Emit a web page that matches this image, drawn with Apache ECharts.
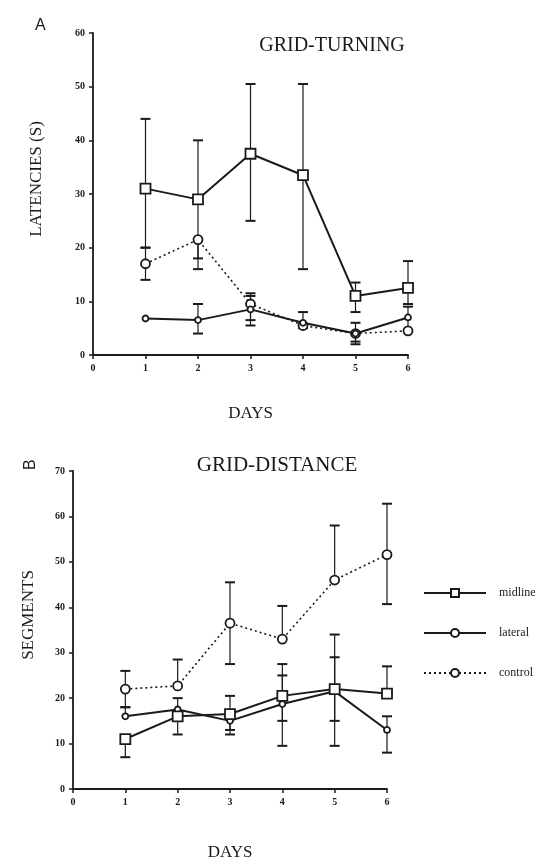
<!DOCTYPE html>
<html><head><meta charset="utf-8">
<script src="https://cdn.jsdelivr.net/npm/echarts@6/dist/echarts.min.js"></script>
<style>html,body{margin:0;padding:0;background:#fff}#c{width:555px;height:862px}</style>
</head><body><div id="c"></div>
<script>
const days = [1,2,3,4,5,6];
const xTicks = [0,1,2,3,4,5,6];
// Panel A: GRID-TURNING latencies (s)
const aMidline   = [31, 29, 37.5, 33.5, 11, 12.5];
const aMidlineHi = [44, 40, 50.5, 50.5, 13.5, 17.5];
const aMidlineLo = [20, 16, 25, 16, 8, 9.5];
const aLateral   = [6.8, 6.5, 8.5, 6, 4, 7];
const aLateralHi = [null, 9.5, 11, null, null, null];
const aLateralLo = [null, 4, 5.5, null, 2.5, null];
const aControl   = [17, 21.5, 9.5, 5.5, 4, 4.5];
const aControlHi = [20, null, 11.5, 8, 6, 9];
const aControlLo = [14, 18, 6.5, 5, 2, null];
// Panel B: GRID-DISTANCE segments
const bMidline   = [11, 16, 16.5, 20.5, 22, 21];
const bMidlineHi = [null, null, 20.5, 27.5, 34, 27];
const bMidlineLo = [7, 12, 12, 9.5, 9.5, null];
const bLateral   = [16, 17.5, 15, 18.7, 21.5, 13];
const bLateralHi = [18, 20, null, 25, 29, 16];
const bLateralLo = [null, null, 13, 15, 15, 8];
const bControl   = [22, 22.7, 36.5, 33, 46, 51.6];
const bControlHi = [26, 28.5, 45.5, 40.3, 58, 62.8];
const bControlLo = [18, null, 27.5, null, null, 40.7];

const ink = '#1a1a1a';
const serif2 = '"Liberation Serif","DejaVu Serif",serif';

function pts(v){ return days.map((d,i)=>[d, v[i]]); }
function errData(v, hi, lo){
  return days.map((d,i)=>[d, v[i], hi[i], lo[i]]);
}
function errSeries(name, xi, v, hi, lo){
  return {
    type:'custom', name: name, xAxisIndex: xi, yAxisIndex: xi, silent:true, z:1,
    data: errData(v, hi, lo),
    renderItem: function(params, api){
      const x = api.value(0), y = api.value(1), h = api.value(2), l = api.value(3);
      const children = [];
      const c = api.coord([x, y]);
      const cw = 5;
      [h, l].forEach(function(e){
        if (e === null || e === undefined || isNaN(e) || e === '-') return;
        const p = api.coord([x, e]);
        children.push({type:'line', shape:{x1:c[0], y1:c[1], x2:p[0], y2:p[1]}, style:{stroke:ink, lineWidth:1.2}});
        children.push({type:'line', shape:{x1:p[0]-cw, y1:p[1], x2:p[0]+cw, y2:p[1]}, style:{stroke:ink, lineWidth:2}});
      });
      return {type:'group', children: children};
    },
    encode:{x:0, y:1}
  };
}
function lineSeries(name, xi, v, symbol, size, dashed){
  return {
    type:'line', name:name, xAxisIndex:xi, yAxisIndex:xi, data: pts(v), z:3,
    symbol: symbol, symbolSize: size,
    itemStyle:{color:'#fff', borderColor:ink, borderWidth:1.8},
    lineStyle:{color:ink, width: dashed?1.6:2, type: dashed?[2,3]:'solid'},
    emphasis:{disabled:true}
  };
}
const axisCommon = {
  axisLine:{show:true, lineStyle:{color:ink, width:1.8}},
  axisTick:{show:true, inside:false, length:4, lineStyle:{color:ink, width:1.5}},
  axisLabel:{color:ink, fontFamily:serif2, fontSize:10, fontWeight:'bold'},
  splitLine:{show:false}
};
const chart = echarts.init(document.getElementById('c'), null, {renderer:'canvas'});
chart.setOption({
  backgroundColor:'#fff',
  animation:false,
  title:[
    {text:'GRID-TURNING', left:327, top:31, textAlign:'center', textStyle:{fontFamily:serif2, fontSize:20, fontWeight:'normal', color:ink}},
    {text:'GRID-DISTANCE', left:272, top:450, textAlign:'center', textStyle:{fontFamily:serif2, fontSize:21, fontWeight:'normal', color:ink}}
  ],
  graphic:[
    {type:'text', left:35, top:18, style:{text:'A', font:'16px '+ '"Liberation Sans",sans-serif', fill:ink}},
    {type:'text', x:23, y:470, rotation:Math.PI/2, style:{text:'B', font:'16px "Liberation Sans",sans-serif', fill:ink}}
  ],
  legend:{
    data:['midline','lateral','control'],
    orient:'vertical', left:418, top:582, itemWidth:62, itemHeight:10, itemGap:28,
    textStyle:{fontFamily:serif2, fontSize:12, color:ink, padding:[0,0,0,8]},
    selectedMode:false
  },
  grid:[
    {left:93, right:147, top:33, bottom:507},
    {left:73, right:168, top:471, bottom:68}
  ],
  xAxis:[
    Object.assign({}, axisCommon, {type:'value', gridIndex:0, min:0, max:6, interval:1,
      name:'DAYS', nameLocation:'middle', nameGap:50,
      nameTextStyle:{fontFamily:serif2, fontSize:17, color:ink}}),
    Object.assign({}, axisCommon, {type:'value', gridIndex:1, min:0, max:6, interval:1,
      name:'DAYS', nameLocation:'middle', nameGap:55,
      nameTextStyle:{fontFamily:serif2, fontSize:17, color:ink}})
  ],
  yAxis:[
    Object.assign({}, axisCommon, {type:'value', gridIndex:0, min:0, max:60, interval:10,
      name:'LATENCIES (S)', nameLocation:'middle', nameGap:48, nameRotate:90,
      nameTextStyle:{fontFamily:serif2, fontSize:17, color:ink, padding:[0,0,0,30]}}),
    Object.assign({}, axisCommon, {type:'value', gridIndex:1, min:0, max:70, interval:10,
      name:'SEGMENTS', nameLocation:'middle', nameGap:36, nameRotate:90,
      nameTextStyle:{fontFamily:serif2, fontSize:17, color:ink, padding:[0,0,0,30]}})
  ],
  series:[
    errSeries('eA1',0,aMidline,aMidlineHi,aMidlineLo),
    errSeries('eA2',0,aLateral,aLateralHi,aLateralLo),
    errSeries('eA3',0,aControl,aControlHi,aControlLo),
    lineSeries('control',0,aControl,'circle',9,true),
    lineSeries('lateral',0,aLateral,'circle',6,false),
    lineSeries('midline',0,aMidline,'rect',10,false),
    errSeries('eB1',1,bMidline,bMidlineHi,bMidlineLo),
    errSeries('eB2',1,bLateral,bLateralHi,bLateralLo),
    errSeries('eB3',1,bControl,bControlHi,bControlLo),
    lineSeries('control',1,bControl,'circle',9,true),
    lineSeries('lateral',1,bLateral,'circle',6,false),
    lineSeries('midline',1,bMidline,'rect',10,false)
  ]
});
</script></body></html>
